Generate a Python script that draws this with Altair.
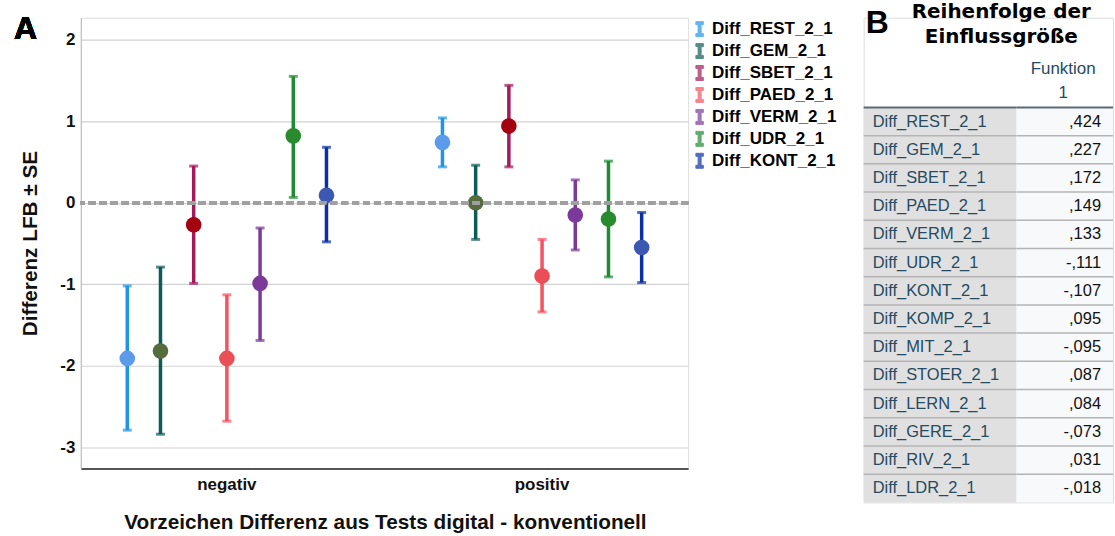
import altair as alt
import pandas as pd

# ---------------- data (panel A) ----------------
groups = ["negativ", "positiv"]
series = ["Diff_REST_2_1", "Diff_GEM_2_1", "Diff_SBET_2_1", "Diff_PAED_2_1",
          "Diff_VERM_2_1", "Diff_UDR_2_1", "Diff_KONT_2_1"]
mean_neg = [-1.91, -1.82, -0.27, -1.91, -0.99, 0.82, 0.09]
low_neg = [-2.79, -2.84, -0.99, -2.68, -1.69, 0.065, -0.48]
high_neg = [-1.02, -0.79, 0.45, -1.13, -0.31, 1.55, 0.68]
mean_pos = [0.74, 0.0, 0.94, -0.90, -0.15, -0.20, -0.55]
low_pos = [0.44, -0.45, 0.44, -1.34, -0.58, -0.91, -0.98]
high_pos = [1.04, 0.46, 1.44, -0.45, 0.28, 0.51, -0.12]
bar_colors = ["#1f95ea", "#0d5c57", "#a31a5b", "#f6525f", "#7b3a99", "#1f8b33", "#0a30a3"]
point_colors = ["#5b9bea", "#566b3e", "#a30010", "#ea4f57", "#7b3a99", "#2a8a2e", "#3d58b3"]

# ---------------- data (panel B) ----------------
table_vars = ["Diff_REST_2_1", "Diff_GEM_2_1", "Diff_SBET_2_1", "Diff_PAED_2_1",
              "Diff_VERM_2_1", "Diff_UDR_2_1", "Diff_KONT_2_1", "Diff_KOMP_2_1",
              "Diff_MIT_2_1", "Diff_STOER_2_1", "Diff_LERN_2_1", "Diff_GERE_2_1",
              "Diff_RIV_2_1", "Diff_LDR_2_1"]
table_vals = [0.424, 0.227, 0.172, 0.149, 0.133, -0.111, -0.107, 0.095,
              -0.095, 0.087, 0.084, -0.073, 0.031, -0.018]

FONT = "Liberation Sans"

rows = []
for g, means, lows, highs in [("negativ", mean_neg, low_neg, high_neg),
                              ("positiv", mean_pos, low_pos, high_pos)]:
    for s, m, lo, hi, pc in zip(series, means, lows, highs, point_colors):
        rows.append({"group": g, "series": s, "mean": m, "low": lo, "high": hi, "pcolor": pc})
df = pd.DataFrame(rows)

def spss(v):
    s = f"{v:.3f}"
    return s.replace("0.", ",", 1)

tdf = pd.DataFrame({"var": table_vars, "val": [spss(v) for v in table_vals]})
sep_df = pd.DataFrame({"var": table_vars[:-1]})
top_df = pd.DataFrame({"var": table_vars[:1]})

# ---------------- panel A ----------------
x_enc = alt.X("group:N",
              scale=alt.Scale(domain=groups, paddingInner=0.073, paddingOuter=0),
              axis=alt.Axis(title="Vorzeichen Differenz aus Tests digital - konventionell",
                            labelAngle=0, ticks=False, grid=False,
                            labelFont=FONT, labelFontSize=17, labelFontWeight="bold",
                            labelColor="#111", labelPadding=8,
                            titleFont=FONT, titleFontSize=20.8, titleFontWeight="bold",
                            titleColor="#111", titleX=305, titleY=54, titleBaseline="middle",
                            domainColor="#555", domainWidth=2))
xo_enc = alt.XOffset("series:N", scale=alt.Scale(domain=series, paddingInner=0, paddingOuter=0.9))
y_scale = alt.Scale(domain=[-3.26, 2.27], nice=False, zero=False)
y_axis = alt.Axis(values=[-3, -2, -1, 0, 1, 2], title="Differenz LFB ± SE", grid=True,
                  labelExpr="'' + datum.value",
                  gridColor="#d2d2d2", gridWidth=1.2, ticks=False,
                  domainColor="#b8b8b8", domainWidth=1,
                  labelFont=FONT, labelFontSize=17, labelFontWeight="bold",
                  labelColor="#111", labelPadding=6,
                  titleFont=FONT, titleFontSize=20.8, titleFontWeight="bold", titleColor="#111",
                  titleX=-50, titleY=226, titleBaseline="middle", titleAngle=-90)

IPATH = "M-0.5,-1H0.5V-0.6H0.2V0.6H0.5V1H-0.5V0.6H-0.2V-0.6H-0.5Z"
color_enc = alt.Color("series:N", scale=alt.Scale(domain=series, range=bar_colors),
                      legend=alt.Legend(title=None, orient="none", legendX=612, legendY=3,
                                        symbolType=IPATH, symbolSize=225, symbolStrokeWidth=1,
                                        labelFont=FONT, labelFontSize=17, labelFontWeight="bold",
                                        labelColor="#000", rowPadding=3, labelOffset=4,
                                        padding=0))

base = alt.Chart(df)
rules = base.mark_rule(strokeWidth=3.5).encode(
    x=x_enc, xOffset=xo_enc,
    y=alt.Y("low:Q", scale=y_scale, axis=y_axis), y2="high:Q",
    color=color_enc)
cap_lo = base.mark_tick(size=9, thickness=3).encode(
    x=x_enc, xOffset=xo_enc, y=alt.Y("low:Q"), color=color_enc)
cap_hi = base.mark_tick(size=9, thickness=3).encode(
    x=x_enc, xOffset=xo_enc, y=alt.Y("high:Q"), color=color_enc)
points = base.mark_circle(size=245, opacity=1).encode(
    x=x_enc, xOffset=xo_enc, y=alt.Y("mean:Q"),
    color=alt.Color("pcolor:N", scale=None))
zero = alt.Chart(df).mark_rule(strokeDash=[7, 4], strokeWidth=3.5, color="#a0a0a0").encode(
    y=alt.datum(0))
letter_a = alt.Chart(df).mark_text(text="A", font=FONT, fontSize=32, fontWeight="bold",
                                   align="left", baseline="alphabetic", color="#000").encode(
    x=alt.value(-67), y=alt.value(21))

panel_a = alt.layer(rules, cap_lo, cap_hi, points, zero, letter_a).properties(width=609, height=452)

# ---------------- panel B ----------------
ty_scale = alt.Scale(domain=table_vars, paddingInner=0, paddingOuter=0)

def table_col(bg):
    tb = alt.Chart(tdf)
    bgl = tb.mark_rect(color=bg).encode(y=alt.Y("var:N", scale=ty_scale, axis=None))
    sep = alt.Chart(sep_df).mark_rule(color="#b4b4b4", strokeWidth=1.5).encode(
        y=alt.Y("var:N", scale=ty_scale, axis=None, bandPosition=1))
    top = alt.Chart(top_df).mark_rule(color="#5b6b78", strokeWidth=2).encode(
        y=alt.Y("var:N", scale=ty_scale, axis=None, bandPosition=0))
    return tb, [bgl, sep, top]

tb_l, layers_l = table_col("#e0e0e0")
lab_text = tb_l.mark_text(align="left", baseline="middle", font=FONT, fontSize=16.5,
                          color="#264a60").encode(
    y=alt.Y("var:N", scale=ty_scale, axis=None), x=alt.value(9), text="var:N")
panel_bl = alt.layer(*layers_l, lab_text).properties(width=153, height=396)

tb_v, layers_v = table_col("#f8f9fb")
val_text = tb_v.mark_text(align="right", baseline="middle", font=FONT, fontSize=16.5,
                          color="#111").encode(
    y=alt.Y("var:N", scale=ty_scale, axis=None), x=alt.value(85), text="val:N")
panel_bv = alt.layer(*layers_v, val_text).properties(width=97, height=396)

HFONT = "DejaVu Sans"
hb = alt.Chart(top_df)
letter_b = hb.mark_text(text="B", font=FONT, fontSize=32, fontWeight="bold",
                        align="left", baseline="alphabetic", color="#000").encode(
    x=alt.value(2), y=alt.value(15))
head1 = hb.mark_text(text="Reihenfolge der", font=HFONT, fontSize=20, fontWeight="bold",
                     align="center", baseline="middle", color="#000").encode(
    x=alt.value(138), y=alt.value(-6))
head2 = hb.mark_text(text="Einflussgröße", font=HFONT, fontSize=20, fontWeight="bold",
                     align="center", baseline="middle", color="#000").encode(
    x=alt.value(138), y=alt.value(19))
fun1 = hb.mark_text(text="Funktion", font=FONT, fontSize=17, align="center",
                    baseline="middle", color="#264a60").encode(
    x=alt.value(200), y=alt.value(51))
fun2 = hb.mark_text(text="1", font=FONT, fontSize=17, align="center",
                    baseline="middle", color="#264a60").encode(
    x=alt.value(200), y=alt.value(76))
header_b = alt.layer(letter_b, head1, head2, fun1, fun2).properties(width=250, height=90)

panel_b = alt.vconcat(header_b, alt.hconcat(panel_bl, panel_bv, spacing=0, bounds="flush"),
                      spacing=0, bounds="flush")

chart = alt.hconcat(panel_a, panel_b, spacing=176, bounds="flush").properties(
    padding={"left": 13, "top": 0, "right": 0, "bottom": 0}
).configure_view(stroke=None).configure(background="#ffffff")

chart.save("out.html", embed_options={"renderer": "svg", "actions": False})
